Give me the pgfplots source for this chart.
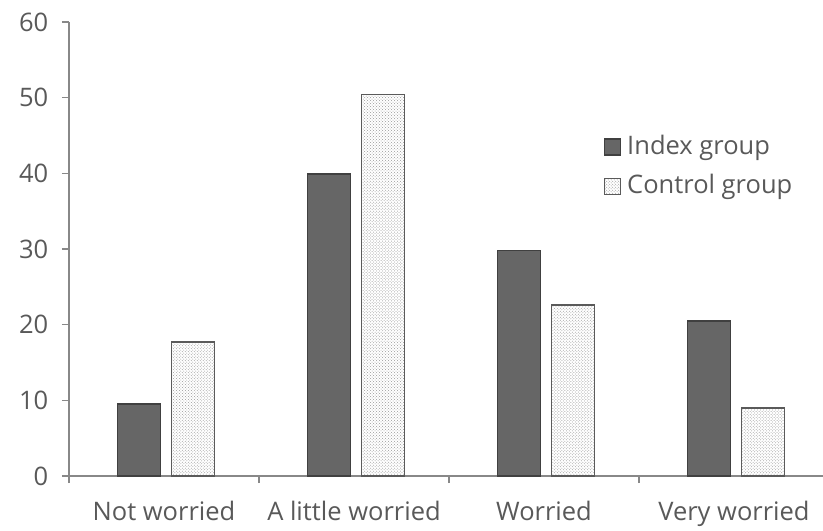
\documentclass[border=0pt]{standalone}
\usepackage{pgfplots}
\pgfplotsset{compat=1.18}
\usepackage{fontspec}
\setmainfont{Open Sans}
\usetikzlibrary{patterns}
\definecolor{txt}{HTML}{595959}
\definecolor{axc}{HTML}{888888}
\definecolor{idx}{HTML}{666666}
\definecolor{idxb}{HTML}{404040}
\definecolor{ctlb}{HTML}{5A5A5A}
\begin{document}
\fontsize{25.5bp}{30bp}\selectfont
\begin{tikzpicture}
\path[use as bounding box] (0,0) rectangle (823bp,531bp);
\begin{axis}[
  at={(69bp,55bp)}, anchor=south west,
  scale only axis, width=760bp, height=454bp,
  xmin=-0.5, xmax=3.5, ymin=0, ymax=60,
  axis lines*=left,
  axis line style={axc, line width=1.2bp},
  every tick/.style={axc, line width=1.2bp},
  tick align=outside, major tick length=7bp,
  ytick={0,10,...,60},
  xtick={-0.5,0.5,1.5,2.5,3.5},
  x tick label as interval,
  xticklabels={Not worried, A little worried, Worried, Very worried},
  ticklabel style={text=txt, font=\fontsize{25.5bp}{30bp}\selectfont},
  yticklabel style={xshift=-5bp},
  xticklabel style={yshift=-9bp},
  /pgf/number format/assume math mode=true,
  ybar=11bp, bar width=43bp,
  legend style={at={(0.704,0.755)}, anchor=north west, draw=none, fill=none,
    font=\fontsize{25.5bp}{30bp}\selectfont, text=txt, row sep=12bp, inner sep=0pt},
  legend cell align=left,
  legend image code/.code={\pgfpathrectangle{\pgfpoint{0bp}{-8bp}}{\pgfpoint{21bp}{16bp}}\pgfusepath{use as bounding box}\draw[#1, line width=1.2bp] (0bp,-8bp) rectangle (16bp,8bp);},
  clip=false,
]
\addplot[fill=idx, draw=idxb, line width=1.5bp, bar shift=-25bp] coordinates {(0,9.5) (1,39.9) (2,29.8) (3,20.5)};
\addplot[fill=white, draw=ctlb, line width=1.5bp, bar shift=29bp, postaction={pattern=crosshatch dots, pattern color=gray!80}] coordinates {(0,17.7) (1,50.4) (2,22.6) (3,9.0)};
\legend{Index group, Control group}
\end{axis}
\end{tikzpicture}
\end{document}
